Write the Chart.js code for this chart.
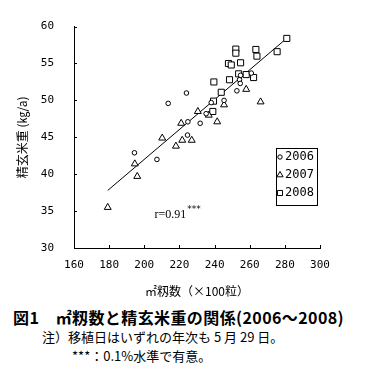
<!DOCTYPE html>
<html>
<head>
<meta charset="utf-8">
<script src="https://cdn.jsdelivr.net/npm/chart.js@4.4.0/dist/chart.umd.min.js"></script>
<style>
  body { margin: 0; background: #fff; width: 376px; height: 387px; position: relative; overflow: hidden;
         font-family: "Noto Sans CJK JP", sans-serif; color: #000; }
  #wrap { position: absolute; left: 0; top: 0; }
  .cap { position: absolute; white-space: nowrap; line-height: 1; }
  #fig { left: 13px; top: 309px; font-size: 16px; font-weight: bold; letter-spacing: 0.4px; }
  #note1 { left: 42px; top: 330px; font-size: 13px; }
  #note2 { left: 72px; top: 349px; font-size: 13px; }
</style>
</head>
<body>
<div id="wrap"><canvas id="rice" width="376" height="300"></canvas></div>
<div class="cap" id="fig">図1　㎡籾数と精玄米重の関係(2006～2008)</div>
<div class="cap" id="note1">注）移植日はいずれの年次も 5 月 29 日。</div>
<div class="cap" id="note2">***：0.1%水準で有意。</div>
<script>
// 年次別データ [m2籾数(×100粒), 精玄米重(kg/a)]
const yr2006 = [
  [194.4, 42.9], [207.2, 42.0], [213.6, 49.6], [224.0, 51.0], [224.6, 45.3],
  [224.8, 47.1], [231.8, 46.9], [235.2, 48.2], [238.1, 49.7], [245.4, 50.0],
  [252.7, 51.3], [254.2, 52.8], [254.6, 52.3], [254.8, 53.4], [260.9, 53.7]
];
const yr2007 = [
  [179.2, 35.5], [194.6, 41.4], [196.0, 39.7], [210.2, 44.9], [218.0, 43.8],
  [221.6, 44.6], [227.0, 44.6], [221.0, 46.9], [230.5, 48.5], [236.7, 48.0],
  [241.5, 47.1], [245.4, 49.4], [258.0, 51.5], [266.2, 49.8]
];
const yr2008 = [
  [281.1, 58.4], [275.6, 56.6], [252.1, 56.95], [252.1, 56.4], [263.5, 56.9],
  [264.1, 56.0], [247.9, 55.0], [249.5, 54.8], [254.8, 55.1], [239.6, 52.5],
  [248.5, 52.8], [253.7, 53.6], [258.0, 53.5], [262.2, 53.1], [243.8, 51.1],
  [239.4, 49.9], [239.0, 48.5]
];
// 回帰直線の両端
const fitLine = [[179.2, 37.8], [280.5, 58.3]];

const xTicks = [160, 180, 200, 220, 240, 260, 280, 300];
const yTicks = [30, 35, 40, 45, 50, 55, 60];
const yearLabels = ["2006", "2007", "2008"];
const rText = "r=0.91";
const rPos = [205.8, 34.5];

const toXY = (arr) => arr.map(([x, y]) => ({ x, y }));

function marker(ctx, style, x, y, r) {
  ctx.beginPath();
  if (style === "circle") {
    ctx.arc(x, y, r, 0, Math.PI * 2);
  } else if (style === "triangle") {
    ctx.moveTo(x, y - r);
    ctx.lineTo(x + r * 0.866, y + r * 0.5);
    ctx.lineTo(x - r * 0.866, y + r * 0.5);
    ctx.closePath();
  } else {
    const s = r * Math.SQRT1_2;
    ctx.rect(x - s, y - s, 2 * s, 2 * s);
  }
  ctx.fillStyle = "#fff";
  ctx.fill();
  ctx.stroke();
}

// 内向きの目盛り線、凡例、相関係数
const extras = {
  id: "extras",
  afterDraw(chart) {
    const { ctx, chartArea: a, scales: { x, y } } = chart;
    ctx.save();
    ctx.strokeStyle = "#000";
    ctx.lineWidth = 1;
    ctx.beginPath();
    xTicks.forEach((v) => {
      const px = Math.round(x.getPixelForValue(v)) + 0.5;
      ctx.moveTo(px, a.bottom);
      ctx.lineTo(px, a.bottom - 3);
    });
    yTicks.forEach((v) => {
      const py = Math.round(y.getPixelForValue(v)) + 0.5;
      ctx.moveTo(a.left, py);
      ctx.lineTo(a.left + 3, py);
    });
    ctx.stroke();

    // 凡例
    ctx.strokeRect(276.5, 148.5, 41, 57);
    ctx.font = '12px "DejaVu Sans Mono"';
    ctx.textBaseline = "middle";
    ctx.textAlign = "left";
    chart.data.datasets.slice(0, 3).forEach((ds, i) => {
      const ly = 157 + i * 18;
      marker(ctx, ds.pointStyle, 280, ly, i === 0 ? 2.2 : 3.6);
      ctx.fillStyle = "#000";
      ctx.fillText(ds.label, 285, ly);
    });

    // r=0.91***
    const rx = x.getPixelForValue(rPos[0]);
    const ry = y.getPixelForValue(rPos[1]);
    ctx.font = '12px "Liberation Serif"';
    ctx.fillStyle = "#000";
    ctx.fillText(rText, rx, ry);
    const w = ctx.measureText(rText).width;
    ctx.font = '9px "DejaVu Sans"';
    ctx.fillText("***", rx + w + 1, ry - 5);
    ctx.restore();
  }
};

const pointBase = { borderColor: "#000", backgroundColor: "#fff", borderWidth: 1, showLine: false };

new Chart(document.getElementById("rice"), {
  type: "scatter",
  data: {
    datasets: [
      { ...pointBase, label: yearLabels[0], data: toXY(yr2006), pointStyle: "circle", pointRadius: 2.3 },
      { ...pointBase, label: yearLabels[1], data: toXY(yr2007), pointStyle: "triangle", pointRadius: 4 },
      { ...pointBase, label: yearLabels[2], data: toXY(yr2008), pointStyle: "rect", pointRadius: 4.3 },
      { label: "fit", data: toXY(fitLine), showLine: true, pointRadius: 0, borderColor: "#000", borderWidth: 1, order: 5 }
    ]
  },
  options: {
    responsive: false,
    animation: false,
    layout: { padding: { left: 0, top: 21, right: 56, bottom: 0 } },
    plugins: { legend: { display: false }, tooltip: { enabled: false } },
    scales: {
      x: {
        type: "linear", min: 160, max: 300,
        afterBuildTicks: (s) => { s.ticks = xTicks.map((v) => ({ value: v })); },
        afterFit: (s) => { s.height = 52; },
        grid: { display: false, drawTicks: false },
        border: { display: true, color: "#000", width: 1 },
        ticks: { color: "#000", padding: 11, font: { family: "DejaVu Sans Mono", size: 11 } },
        title: { display: true, text: "㎡籾数（×100粒）", color: "#000", padding: { top: 0, bottom: 1 },
                 font: { family: "Noto Sans CJK JP", size: 12 } }
      },
      y: {
        type: "linear", min: 30, max: 60,
        afterBuildTicks: (s) => { s.ticks = yTicks.map((v) => ({ value: v })); },
        afterFit: (s) => { s.width = 74; },
        grid: { display: false, drawTicks: false },
        border: { display: true, color: "#000", width: 1 },
        ticks: { color: "#000", padding: 20, font: { family: "DejaVu Sans Mono", size: 11 } },
        title: { display: true, text: "精玄米重 (㎏/a)", color: "#000", padding: { top: 15, bottom: 0 },
                 font: { family: "Noto Sans CJK JP", size: 12 } }
      }
    }
  },
  plugins: [extras]
});
</script>
</body>
</html>
